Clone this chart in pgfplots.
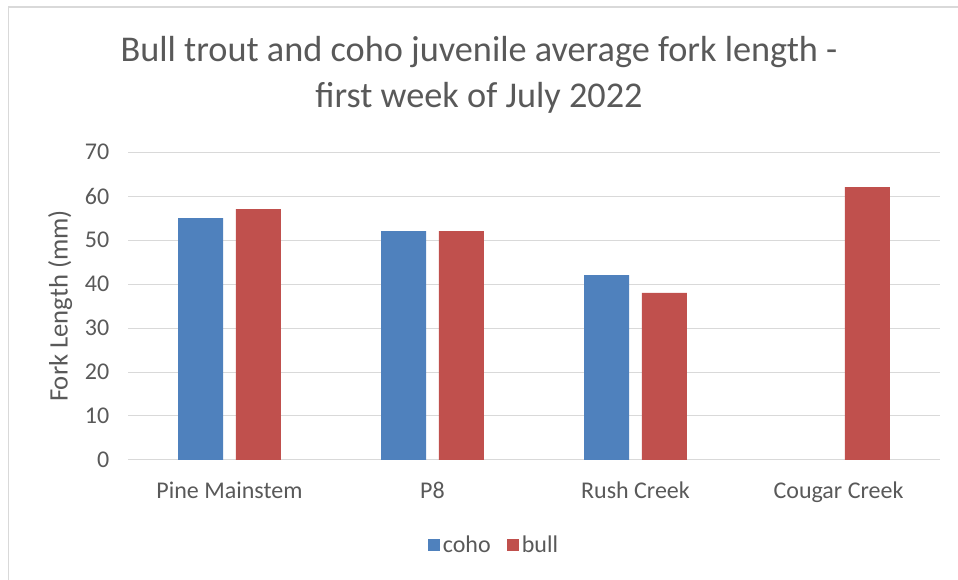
\documentclass[border=0pt]{standalone}
\usepackage{fontspec}
\setmainfont{Carlito}
\usepackage{pgfplots}
\pgfplotsset{compat=1.18}
\definecolor{cohoblue}{HTML}{4F81BD}
\definecolor{bullred}{HTML}{C0504D}
\definecolor{txtgray}{HTML}{595959}
\definecolor{gridgray}{HTML}{D9D9D9}
\begin{document}
\begin{tikzpicture}
\path[use as bounding box] (0pt,0pt) rectangle (718.5pt,-435pt);
\draw[gridgray, line width=1.2pt] (6.4pt,-435pt) -- (6.4pt,-5.25pt) -- (718.5pt,-5.25pt);
\node[align=center, text=txtgray, font=\fontsize{27.2}{34.5}\selectfont] at (359.25pt,-56.5pt) {Bull trout and coho juvenile average fork length -\\first week of July 2022};
\begin{axis}[
  at={(96pt,-345pt)}, anchor=south west,
  scale only axis, width=609pt, height=231pt,
  xmin=-0.5, xmax=3.5, ymin=0, ymax=70,
  ytick={0,10,...,70},
  xtick={0,1,2,3},
  xticklabels={Pine Mainstem,P8,Rush Creek,Cougar Creek},
  /pgf/number format/assume math mode=true,
  ymajorgrids, major grid style={gridgray, line width=0.75pt},
  axis x line*=bottom, axis y line*=left,
  y axis line style={draw=none},
  x axis line style={gridgray, line width=0.75pt, -},
  major tick length=0pt,
  ticklabel style={text=txtgray, font=\fontsize{18}{21}\selectfont},
  yticklabel style={xshift=-10.5pt},
  xticklabel style={yshift=-13pt},
  ylabel={Fork Length (mm)},
  every axis y label/.style={at={(-0.0835,0.5)}, rotate=90, anchor=center,
    text=txtgray, font=\fontsize{20}{24}\selectfont},
  ybar, bar width=0.2217,
  legend columns=2,
  legend style={at={(0.451,-0.276)}, anchor=center, draw=none, fill=none,
    font=\fontsize{18}{21}\selectfont, text=txtgray,
    /tikz/every even column/.append style={column sep=10pt}},
  legend image code/.code={\fill[#1] (0pt,-4.7pt) rectangle (9.4pt,4.7pt);},
]
\addplot[fill=cohoblue, draw=none, bar shift=-0.142] coordinates {(0,55) (1,52) (2,42)};
\addplot[fill=bullred, draw=none, bar shift=0.142] coordinates {(0,57) (1,52) (2,38) (3,62)};
\legend{coho,bull}
\end{axis}
\end{tikzpicture}
\end{document}
